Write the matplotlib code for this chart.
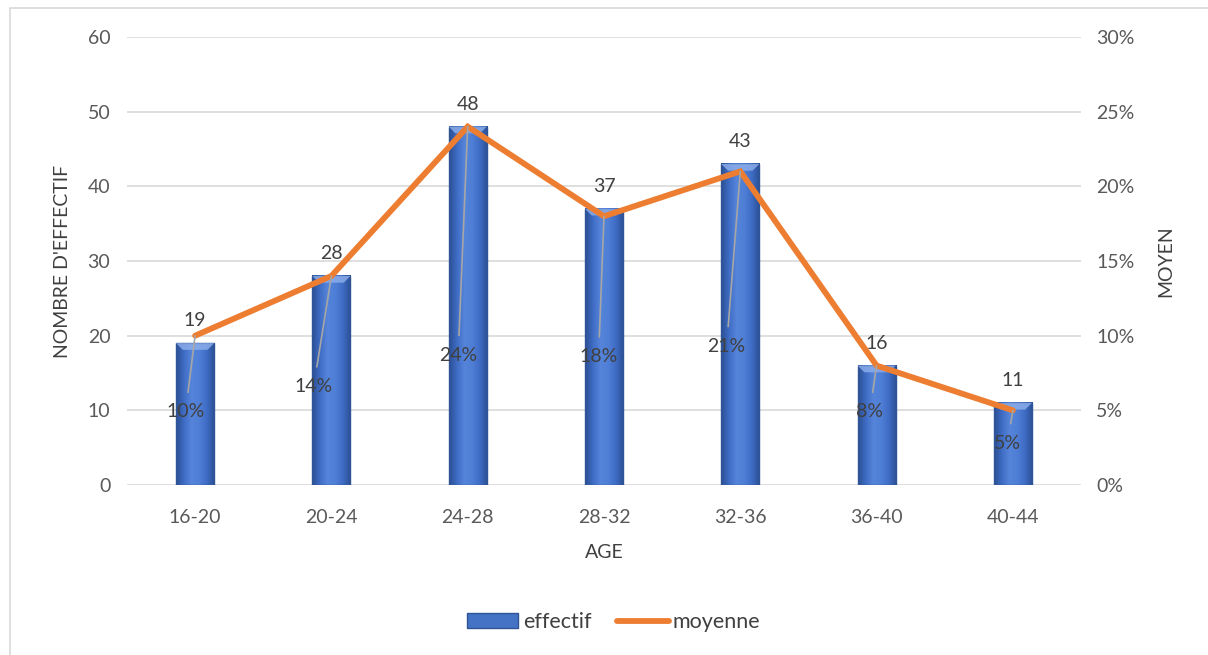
import numpy as np
import matplotlib.pyplot as plt
from matplotlib.patches import Patch, Polygon, Rectangle
from matplotlib.lines import Line2D
from matplotlib.colors import LinearSegmentedColormap
from matplotlib.ticker import FuncFormatter

plt.rcParams['font.family'] = ['Lato', 'DejaVu Sans']

ages = ['16-20', '20-24', '24-28', '28-32', '32-36', '36-40', '40-44']
effectif = [19, 28, 48, 37, 43, 16, 11]
moyenne = [10, 14, 24, 18, 21, 8, 5]  # percent

# where the percentage labels sit (x offset from category, y on the % axis)
pct_label_dx = [-0.07, -0.13, -0.07, -0.04, -0.10, -0.05, -0.04]
pct_label_y = [4.9, 6.6, 8.7, 8.6, 9.3, 4.9, 2.8]

txt = '#404040'
tick_col = '#595959'
grid_col = '#D9D9D9'
orange = '#ED7D31'
fs = 14

fig = plt.figure(figsize=(12.08, 6.55), dpi=100)
ax = fig.add_axes([0.1051, 0.2595, 0.7898, 0.6840])
ax2 = ax.twinx()

x = np.arange(len(ages))
w = 0.28

ax.set_ylim(0, 60)
ax.set_yticks(range(0, 61, 10))
ax.grid(axis='y', color=grid_col, lw=1.2)
ax.set_axisbelow(True)

# bars with a bevelled gradient look
cmap = LinearSegmentedColormap.from_list(
    'bev', ['#2B4F93', '#3F6CC4', '#5584DA', '#4F7ED6', '#3F6CC4', '#2B4F93'])
grad = np.linspace(0, 1, 64).reshape(1, -1)
for xi, v in zip(x, effectif):
    ax.imshow(grad, cmap=cmap, aspect='auto', zorder=2,
              extent=(xi - w / 2, xi + w / 2, 0, v), interpolation='bilinear')
    ax.add_patch(Rectangle((xi - w / 2, 0), w, v, fill=False,
                           edgecolor='#2F5597', lw=1.0, zorder=3))
    bev = 0.9
    ax.add_patch(Polygon([(xi - w / 2, v), (xi + w / 2, v),
                          (xi + w / 2 - 0.05, v - bev), (xi - w / 2 + 0.05, v - bev)],
                         closed=True, facecolor='#8FB0EC', edgecolor='none',
                         alpha=0.8, zorder=3))
    ax.annotate(str(v), (xi, v), xytext=(0, 10), textcoords='offset points',
                ha='center', va='bottom', fontsize=fs, color=txt, zorder=6)
ax.set_xlim(-0.5, len(ages) - 0.5)

ax2.plot(x, moyenne, color=orange, lw=4.2, solid_capstyle='round',
         solid_joinstyle='miter', zorder=4)
ax2.set_ylim(0, 30)
ax2.set_yticks(range(0, 31, 5))
ax2.yaxis.set_major_formatter(FuncFormatter(lambda v, p: f'{int(v)}%'))

for xi, v, dx, ly in zip(x, moyenne, pct_label_dx, pct_label_y):
    ax2.annotate(f'{v}%', (xi, v), xytext=(xi + dx, ly), textcoords='data',
                 ha='center', va='center', fontsize=fs, color=txt, zorder=6,
                 arrowprops=dict(arrowstyle='-', color='#A6A6A6', lw=1.2,
                                 shrinkA=6, shrinkB=0))

ax.set_xticks(x)
ax.set_xticklabels(ages)

for a in (ax, ax2):
    for s in a.spines.values():
        s.set_visible(False)
    a.tick_params(length=0, labelsize=fs, labelcolor=tick_col)
ax.tick_params(axis='y', pad=12)
ax.tick_params(axis='x', pad=17)
ax2.tick_params(axis='y', pad=11)

ax.set_xlabel('AGE', fontsize=fs, color=txt, labelpad=13)
ax.set_ylabel("NOMBRE D'EFFECTIF", fontsize=fs, color=txt, labelpad=12)
ax2.set_ylabel('MOYEN', fontsize=fs, color=txt, labelpad=16)

handles = [Patch(facecolor='#4472C4', edgecolor='#2F5597'),
           Line2D([0], [0], color=orange, lw=4.2, solid_capstyle='round')]
fig.legend(handles, ['effectif', 'moyenne'], loc='center',
           bbox_to_anchor=(0.508, 0.05), ncol=2, frameon=False, fontsize=15.5,
           labelcolor=txt, handlelength=2.4, handletextpad=0.2,
           columnspacing=1.2)

fig.patches.append(Rectangle((10 / 1208, -0.1), 1.2, 1 - 8 / 655 + 0.1,
                             transform=fig.transFigure, fill=False,
                             edgecolor=grid_col, lw=1.2))

fig.savefig('out.png', dpi=100)
